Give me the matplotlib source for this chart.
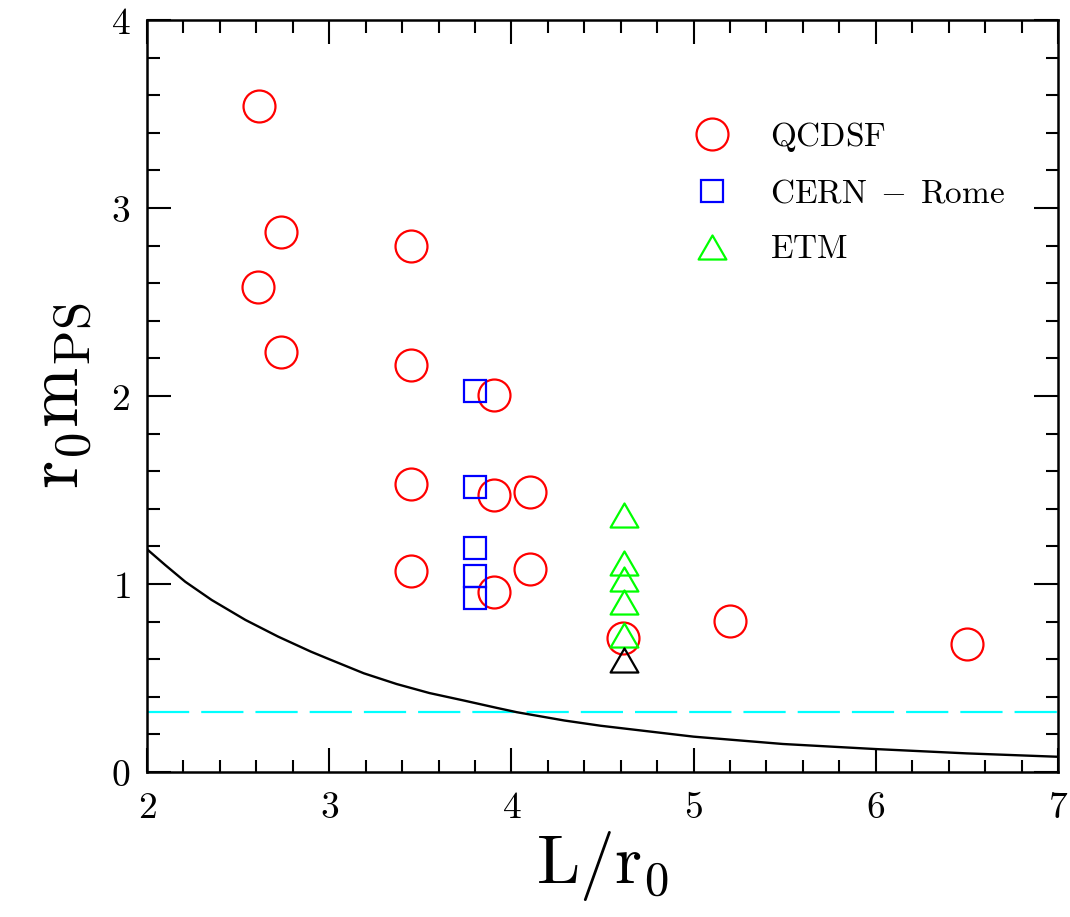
import matplotlib

matplotlib.use("Agg")
import matplotlib.pyplot as plt
from matplotlib.path import Path
from matplotlib.ticker import FuncFormatter, MultipleLocator

plt.rcParams["mathtext.fontset"] = "cm"

# QCDSF points (L/r0, r0 m_PS)
QCDSF_X = [2.615, 2.735, 3.45, 2.61, 2.735, 3.45, 3.905, 3.45, 3.905, 4.10,
           3.45, 4.10, 3.905, 4.61, 5.20, 6.50]
QCDSF_Y = [3.54, 2.87, 2.80, 2.58, 2.234, 2.165, 2.007, 1.53, 1.473, 1.491,
           1.069, 1.078, 0.959, 0.714, 0.805, 0.679]

# CERN-Rome points
CERN_X = [3.80, 3.80, 3.80, 3.80, 3.80]
CERN_Y = [2.028, 1.518, 1.19, 1.044, 0.924]

# ETM points; the last one is drawn in black
ETM_X = [4.62, 4.62, 4.62, 4.62, 4.62]
ETM_Y = [1.369, 1.113, 1.028, 0.903, 0.729]
ETM_EXTRA_X = [4.62]
ETM_EXTRA_Y = [0.597]

# finite-volume bound curve
BOUND_X = [2.0, 2.10, 2.21, 2.355, 2.54, 2.72, 2.90, 3.0, 3.19, 3.37, 3.55,
           3.74, 3.92, 4.03, 4.29, 4.49, 5.0, 5.49, 6.0, 6.5, 7.0]
BOUND_Y = [1.185, 1.101, 1.012, 0.915, 0.809, 0.72, 0.64, 0.60, 0.525, 0.468,
           0.42, 0.38, 0.341, 0.318, 0.274, 0.246, 0.188, 0.149, 0.122, 0.099,
           0.081]

# physical pion mass line
PION_LEVEL = 0.318

# open equilateral triangle
TRI = Path([(-1, -0.866), (1, -0.866), (0, 0.866), (-1, -0.866)], closed=True)

fig = plt.figure(figsize=(10.70, 9.17), dpi=100)
ax = fig.add_axes([147 / 1070, 1 - 772 / 917, 911 / 1070, 752 / 917])

ax.axhline(PION_LEVEL, color="#00ffff", lw=1.6, dashes=(19, 5.4))
ax.plot(BOUND_X, BOUND_Y, color="black", lw=1.7)

mk = dict(ls="none", mfc="none", mew=1.6)
ax.plot(QCDSF_X, QCDSF_Y, marker="o", ms=23, mec="#ff0000",
        label=r"$\mathrm{QCDSF}$", **mk)
ax.plot(CERN_X, CERN_Y, marker="s", ms=16.5, mec="#0000ff",
        label=r"$\mathrm{CERN\;-\;Rome}$", **mk)
ax.plot(ETM_X, ETM_Y, marker=TRI, ms=20, mec="#00ff00",
        label=r"$\mathrm{ETM}$", **mk)
ax.plot(ETM_EXTRA_X, ETM_EXTRA_Y, marker=TRI, ms=20, mec="black", **mk)

ax.set_xlim(2, 7)
ax.set_ylim(0, 4)
ax.xaxis.set_major_locator(MultipleLocator(1))
ax.xaxis.set_minor_locator(MultipleLocator(0.2))
ax.yaxis.set_major_locator(MultipleLocator(1))
ax.yaxis.set_minor_locator(MultipleLocator(0.2))
fmt = FuncFormatter(lambda v, _: r"$\mathrm{%d}$" % round(v))
ax.xaxis.set_major_formatter(fmt)
ax.yaxis.set_major_formatter(fmt)
ax.tick_params(which="both", direction="in", top=True, right=True, width=1.5,
               labelsize=27)
ax.tick_params(which="major", length=17)
ax.tick_params(which="minor", length=9)
ax.tick_params(axis="x", pad=13)
ax.tick_params(axis="y", pad=12)
for s in ax.spines.values():
    s.set_linewidth(1.8)

ax.set_xlabel(r"$\mathrm{L/r_0}$", fontsize=50, labelpad=2)
ax.set_ylabel(r"$\mathrm{r_0m_{PS}}$", fontsize=52, labelpad=12)

ax.legend(loc="upper left", bbox_to_anchor=(0.584, 0.867), frameon=False,
          fontsize=24, numpoints=1, handlelength=2.0, handletextpad=0.72,
          labelspacing=0.68, borderpad=0, borderaxespad=0)

fig.savefig("out.png", dpi=100)
